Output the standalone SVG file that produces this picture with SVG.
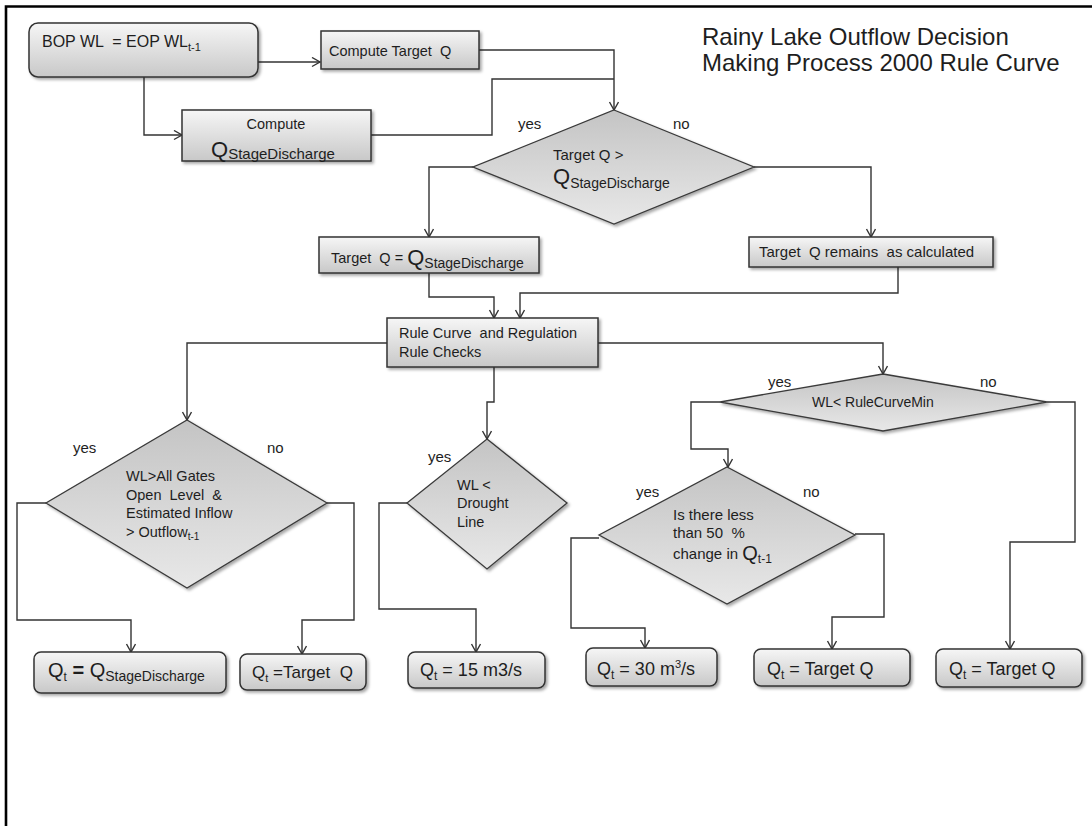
<svg xmlns="http://www.w3.org/2000/svg" width="1092" height="826" viewBox="0 0 1092 826">
<style>
text{font-family:"Liberation Sans",Arial,sans-serif;fill:#1e1e1e}
.box{fill:url(#boxGrad);stroke:#333;stroke-width:1.5;filter:url(#sh)}
.dia{fill:url(#diaGrad);stroke:#3a3a3a;stroke-width:1.3;filter:url(#sh)}
.con{fill:none;stroke:#333;stroke-width:1.4}
.arr{marker-end:url(#ah)}
.t14{font-size:14.5px}
.t15{font-size:15px}
.t18{font-size:18px}
.lbl{font-size:15px}
</style>
<defs>
<linearGradient id="boxGrad" x1="0" y1="0" x2="0" y2="1">
<stop offset="0" stop-color="#f6f6f6"/>
<stop offset="1" stop-color="#c8c8c8"/>
</linearGradient>
<linearGradient id="diaGrad" x1="0" y1="0" x2="0" y2="1">
<stop offset="0" stop-color="#c4c4c4"/>
<stop offset="1" stop-color="#e8e8e8"/>
</linearGradient>
<filter id="sh" x="-10%" y="-10%" width="130%" height="140%">
<feDropShadow dx="2" dy="2" stdDeviation="1.5" flood-color="#000" flood-opacity="0.35"/>
</filter>
<marker id="ah" markerUnits="userSpaceOnUse" markerWidth="12" markerHeight="12" refX="9" refY="5" orient="auto">
<path d="M1,0.5 L9,5 L1,9.5" fill="none" stroke="#333" stroke-width="1.4"/>
</marker>
</defs>
<rect width="1092" height="826" fill="#fff"/>
<path d="M6,826 V6.5 H1092" fill="none" stroke="#000" stroke-width="2.6"/>

<g id="title">
<text x="702" y="45" font-size="24">Rainy Lake Outflow Decision</text>
<text x="702" y="71" font-size="24">Making Process 2000 Rule Curve</text>
</g>

<g id="connectors">
<path class="con arr" d="M258,62 H320"/>
<path class="con arr" d="M144,77 V135 H182"/>
<path class="con arr" d="M479,50 H614 V110"/>
<path class="con" d="M371,135 H492 V79 H614"/>
<path class="con arr" d="M473,167 H429 V237"/>
<path class="con arr" d="M754,167 H871 V237"/>
<path class="con arr" d="M429,273 V297 H494 V318"/>
<path class="con arr" d="M898,267 V293 H520 V318"/>
<path class="con arr" d="M387,343 H187 V420"/>
<path class="con arr" d="M494,367 V402 H487 V439"/>
<path class="con arr" d="M598,343 H883 V374"/>
<path class="con arr" d="M46,503 H17 V620 H131 V652"/>
<path class="con arr" d="M327,503 H354 V620 H302 V654"/>
<path class="con arr" d="M407,503 H379 V609 H476 V652"/>
<path class="con arr" d="M720,402 H691 V449 H728 V467"/>
<path class="con arr" d="M1047,402 H1075 V542 H1010 V649"/>
<path class="con arr" d="M599,538 H571 V628 H645 V648"/>
<path class="con arr" d="M855,534 H884 V617 H832 V649"/>
</g>

<g id="bop">
<rect class="box" x="29" y="23" width="229" height="54" rx="9"/>
<text x="42" y="47" font-size="16" xml:space="preserve">BOP WL  = EOP WL<tspan font-size="11" dy="4">t-1</tspan></text>
</g>

<g id="computeTarget">
<rect class="box" x="321" y="31" width="158" height="38"/>
<text class="t14" x="329" y="56" xml:space="preserve">Compute Target  Q</text>
</g>

<g id="computeQSD">
<rect class="box" x="182" y="110" width="189" height="51"/>
<text class="t14" x="276" y="129" text-anchor="middle">Compute</text>
<text x="211" y="157" font-size="22">Q<tspan font-size="15" dy="2">StageDischarge</tspan></text>
</g>

<g id="decision1">
<polygon class="dia" points="614,110 754,167 614,224 473,167"/>
<text class="t15" x="553" y="160">Target Q &gt;</text>
<text x="553" y="184" font-size="22">Q<tspan font-size="14" dy="4">StageDischarge</tspan></text>
<text class="lbl" x="518" y="129">yes</text>
<text class="lbl" x="673" y="129">no</text>
</g>

<g id="targetEqQSD">
<rect class="box" x="319" y="237" width="220" height="36"/>
<text class="t14" x="331" y="263" xml:space="preserve">Target  Q = <tspan font-size="22" dy="2">Q</tspan><tspan font-size="14" dy="3">StageDischarge</tspan></text>
</g>

<g id="targetRemains">
<rect class="box" x="749" y="237" width="244" height="30"/>
<text class="t15" x="759" y="257" xml:space="preserve">Target  Q remains  as calculated</text>
</g>

<g id="ruleChecks">
<rect class="box" x="387" y="318" width="211" height="49"/>
<text class="t14" x="399" y="338" xml:space="preserve">Rule Curve  and Regulation</text>
<text class="t14" x="399" y="357">Rule Checks</text>
</g>

<g id="decisionGates">
<polygon class="dia" points="187,420 327,503 187,588 46,503"/>
<text class="t14" x="126" y="481">WL&gt;All Gates</text>
<text class="t14" x="126" y="500" xml:space="preserve">Open  Level  &amp;</text>
<text class="t14" x="126" y="518">Estimated Inflow</text>
<text class="t14" x="126" y="537">&gt; Outflow<tspan font-size="10" dy="3">t-1</tspan></text>
<text class="lbl" x="73" y="453">yes</text>
<text class="lbl" x="267" y="453">no</text>
</g>

<g id="decisionDrought">
<polygon class="dia" points="487,439 567,503 487,569 407,503"/>
<text class="t14" x="457" y="490">WL &lt;</text>
<text class="t14" x="457" y="508">Drought</text>
<text class="t14" x="457" y="527">Line</text>
<text class="lbl" x="428" y="462">yes</text>
</g>

<g id="decisionRuleMin">
<polygon class="dia" points="883,374 1047,402 883,431 720,402"/>
<text x="812" y="407" font-size="14">WL&lt; RuleCurveMin</text>
<text class="lbl" x="768" y="387">yes</text>
<text class="lbl" x="980" y="387">no</text>
</g>

<g id="decisionChange">
<polygon class="dia" points="727,467 855,535 727,604 599,535"/>
<text class="t15" x="673" y="520">Is there less</text>
<text class="t15" x="673" y="538" xml:space="preserve">than 50  %</text>
<text class="t15" x="673" y="559">change in <tspan font-size="20" dy="1">Q</tspan><tspan font-size="12" dy="3">t-1</tspan></text>
<text class="lbl" x="636" y="497">yes</text>
<text class="lbl" x="803" y="497">no</text>
</g>

<g id="outQSD">
<rect class="box" x="34" y="652" width="192" height="41" rx="7"/>
<text x="48" y="677" font-size="20">Q<tspan font-size="12" dy="4">t</tspan><tspan font-weight="bold" dy="-4"> = </tspan>Q<tspan font-size="14" dy="4">StageDischarge</tspan></text>
</g>

<g id="outTarget1">
<rect class="box" x="240" y="654" width="126" height="36" rx="7"/>
<text x="252" y="678" font-size="17" xml:space="preserve">Q<tspan font-size="11" dy="4">t</tspan><tspan dy="-4"> =Target  Q</tspan></text>
</g>

<g id="out15">
<rect class="box" x="408" y="652" width="137" height="36" rx="7"/>
<text class="t18" x="420" y="676">Q<tspan font-size="12" dy="4">t</tspan><tspan dy="-4"> = 15 m3/s</tspan></text>
</g>

<g id="out30">
<rect class="box" x="586" y="648" width="131" height="38" rx="7"/>
<text class="t18" x="597" y="675">Q<tspan font-size="12" dy="4">t</tspan><tspan dy="-4"> = 30 m</tspan><tspan font-size="11" dy="-7">3</tspan><tspan dy="7">/s</tspan></text>
</g>

<g id="outTarget2">
<rect class="box" x="754" y="649" width="156" height="37" rx="7"/>
<text class="t18" x="767" y="675">Q<tspan font-size="12" dy="4">t</tspan><tspan dy="-4"> = Target Q</tspan></text>
</g>

<g id="outTarget3">
<rect class="box" x="936" y="649" width="146" height="38" rx="7"/>
<text class="t18" x="949" y="675">Q<tspan font-size="12" dy="4">t</tspan><tspan dy="-4"> = Target Q</tspan></text>
</g>
</svg>
